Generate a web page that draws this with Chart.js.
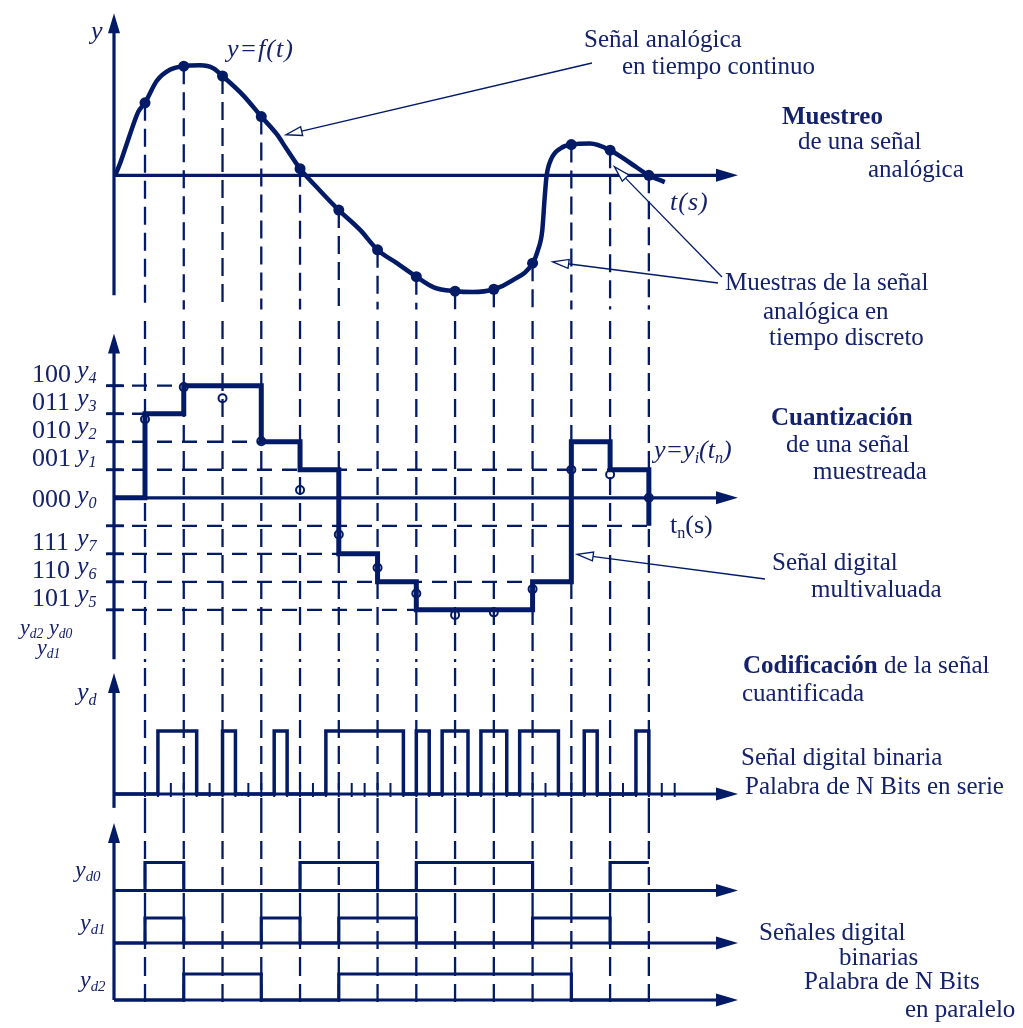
<!DOCTYPE html>
<html lang="es">
<head>
<meta charset="utf-8">
<title>Muestreo, cuantización y codificación</title>
<script src="https://cdn.jsdelivr.net/npm/chart.js@4.4.1/dist/chart.umd.min.js"></script>
<style>
  html, body { margin: 0; background: #fff; }
  #page { position: relative; width: 1023px; height: 1028px; overflow: hidden; }
  #page canvas { position: absolute; left: 0; }
  .t { position: absolute; white-space: nowrap; font-family: "Liberation Serif", "Times New Roman", serif;
       font-size: 25px; line-height: 1; color: #14216b; }
  .i { font-style: italic; font-size: 26px; }
  .t sub { font-size: 0.62em; vertical-align: -0.28em; line-height: 0; }
</style>
</head>
<body>
<div id="page">
  <canvas id="analog" width="1023" height="315" style="top:0px"></canvas>
  <canvas id="quant" width="1023" height="353" style="top:315px"></canvas>
  <canvas id="serial" width="1023" height="147" style="top:668px"></canvas>
  <canvas id="bit0" width="1023" height="90" style="top:815px"></canvas>
  <canvas id="bit1" width="1023" height="53" style="top:905px"></canvas>
  <canvas id="bit2" width="1023" height="70" style="top:958px"></canvas>

  <div class="t i" style="left:91px;top:18px">y</div>
  <div class="t i" style="left:227px;top:36px;letter-spacing:1px">y=f(t)</div>
  <div class="t i" style="left:670px;top:189px;letter-spacing:1px">t(s)</div>
  <div class="t" style="left:584px;top:26px">Señal analógica</div>
  <div class="t" style="left:622px;top:53px">en tiempo continuo</div>
  <div class="t" style="left:782px;top:103px"><b>Muestreo</b></div>
  <div class="t" style="left:798px;top:128px">de una señal</div>
  <div class="t" style="left:868px;top:156px">analógica</div>
  <div class="t" style="left:725px;top:269px">Muestras de la señal</div>
  <div class="t" style="left:763px;top:298px">analógica en</div>
  <div class="t" style="left:769px;top:324px">tiempo discreto</div>

  <div class="t" style="left:771px;top:404px"><b>Cuantización</b></div>
  <div class="t" style="left:786px;top:431px">de una señal</div>
  <div class="t" style="left:813px;top:458px">muestreada</div>
  <div class="t i" style="left:654px;top:437px">y=y<sub>i</sub>(t<sub>n</sub>)</div>
  <div class="t" style="left:670px;top:512px;font-size:26px">t<sub>n</sub>(s)</div>
  <div class="t" style="left:772px;top:549px">Señal digital</div>
  <div class="t" style="left:811px;top:576px">multivaluada</div>
  <div class="t i" style="left:20px;top:616px;font-size:22px">y<sub>d2</sub> y<sub>d0</sub></div>
  <div class="t i" style="left:37px;top:636px;font-size:22px">y<sub>d1</sub></div>

  <div class="t" style="left:743px;top:652px"><b>Codificación</b> de la señal</div>
  <div class="t" style="left:742px;top:680px">cuantificada</div>
  <div class="t i" style="left:77px;top:679px">y<sub>d</sub></div>
  <div class="t" style="left:741px;top:744px">Señal digital binaria</div>
  <div class="t" style="left:745px;top:773px">Palabra de N Bits en serie</div>

  <div class="t i" style="left:75px;top:857px;font-size:24px">y<sub>d0</sub></div>
  <div class="t i" style="left:80px;top:910px;font-size:24px">y<sub>d1</sub></div>
  <div class="t i" style="left:80px;top:967px;font-size:24px">y<sub>d2</sub></div>
  <div class="t" style="left:759px;top:919px">Señales digital</div>
  <div class="t" style="left:839px;top:944px">binarias</div>
  <div class="t" style="left:804px;top:968px">Palabra de N Bits</div>
  <div class="t" style="left:905px;top:996px">en paralelo</div>
</div>

<script>
// sample instants t_n
const sampleTimes = [1, 2, 3, 4, 5, 6, 7, 8, 9, 10, 11, 12, 13, 14];

// analog signal y = f(t)
const curveT = [0.23, 0.36, 0.53, 0.70, 0.83, 1.0, 1.3, 1.64, 2.0, 2.42, 2.76, 3.0, 3.54, 4.0,
                4.4, 4.65, 5.0, 5.51, 6.0, 6.55, 7.0, 7.49, 8.0, 8.45, 9.0, 9.46, 10.0, 10.47,
                11.0, 11.14, 11.25, 11.31, 11.36, 11.47, 11.73, 12.0, 12.48, 13.0, 13.51, 14.0, 14.41];
const curveY = [0, 0.44, 1.13, 1.82, 2.28, 2.59, 3.37, 3.77, 3.9, 3.93, 3.83, 3.55, 2.85, 2.1,
                1.47, 0.95, 0.24, -0.54, -1.24, -1.95, -2.66, -3.13, -3.62, -4.0, -4.14, -4.17, -4.07, -3.76,
                -3.14, -2.66, -1.97, -0.83, -0.03, 0.55, 0.97, 1.10, 1.14, 0.90, 0.45, 0.0, -0.24];

// samples on the analog curve and as redrawn on the quantizer plot
const sampleY = [2.59, 3.9, 3.55, 2.1, 0.24, -1.24, -2.66, -3.62, -4.14, -4.07, -3.14, 1.10, 0.90, 0];
const heldY = [2.8, 3.95, 3.55, 2.02, 0.28, -1.31, -2.5, -3.42, -4.18, -4.09, -3.26, 1.0, 0.83, 0];

// quantized level held from each sample
const quantLevel = [3, 4, 4, 2, 1, -2, -3, -4, -4, -4, -3, 2, 1, -1];

// quantizer levels and their 3-bit codes
const levelValues = [4, 3, 2, 1, 0, -2, -3, -4];
const levelCodes = ['100', '011', '010', '001', '000', '111', '110', '101'];
const levelNames = ['4', '3', '2', '1', '0', '7', '6', '5'];

// dashed level guides and the sample where each one stops
const guideLevels = [4, 3, 2, 1, -1, -2, -3, -4];
const guideEnds = [2, 1, 4, 13, 14, 6, 11, 8];

const NAVY = '#031a66';
const X_MIN = 0.2, X_MAX = 16.3;

const sampleCodes = quantLevel.map(lv => levelCodes[levelValues.indexOf(lv)]);

function pts(xs, ys) { return xs.map((x, i) => ({ x: x, y: ys[i] })); }

function serialPoints() {
  const out = [{ x: X_MIN, y: 0 }];
  sampleTimes.forEach((t, i) => {
    const code = sampleCodes[i];
    if (!code) { out.push({ x: t, y: 0 }); return; }
    for (let j = 0; j < 3; j++) out.push({ x: t + j / 3, y: +code[j] });
  });
  return out;
}

function bitPoints(ch) {
  const out = [{ x: X_MIN, y: 0 }];
  sampleTimes.forEach((t, i) => {
    const code = sampleCodes[i];
    out.push({ x: t, y: code ? +code[ch] : out[out.length - 1].y });
  });
  return out;
}

// panel height mapping: baseline pixel (page) and pixels per unit
function range(top, height, basePx, pxPerUnit) {
  return { min: (basePx - top - height) / pxPerUnit, max: (basePx - top) / pxPerUnit };
}

const decorCfg = {
  analog: { fromSamples: true, yAxis: [-4.28, 5.79], yArrow: true,
            leaders: [{ from: [592, 63], to: [4.64, 1.45] },
                      { from: [722, 277], to: [13.11, 0.31] },
                      { from: [718, 283], to: [11.52, -3.09] }] },
  quant: { yAxis: [-5.76, 5.86], yArrow: true, levelGuides: true,
           leaders: [{ from: [765, 579], to: [12.15, -2.02] }] },
  serial: { yAxis: [-0.22, 1.92], yArrow: true, bitTicks: true },
  bit0: { yAxis: [null, 2.41], yArrow: true },
  bit1: { yAxis: [null, null] },
  bit2: { yAxis: [0, null], guideTo: -0.19 }
};

function head(ctx, x, y, ang, len, half, open) {
  ctx.save();
  ctx.translate(x, y);
  ctx.rotate(ang);
  ctx.beginPath();
  ctx.moveTo(0, 0);
  ctx.lineTo(-len, -half);
  ctx.lineTo(-len, half);
  ctx.closePath();
  if (open) {
    ctx.fillStyle = '#fff'; ctx.fill();
    ctx.lineWidth = 1.3; ctx.stroke();
  } else {
    ctx.fillStyle = NAVY; ctx.fill();
  }
  ctx.restore();
}

const decor = {
  id: 'decor',
  beforeDatasetsDraw(chart) {
    const c = decorCfg[chart.canvas.id];
    const ctx = chart.ctx, xs = chart.scales.x, ys = chart.scales.y;
    const X = v => xs.getPixelForValue(v), Y = v => ys.getPixelForValue(v);
    ctx.save();
    ctx.strokeStyle = NAVY;
    ctx.lineWidth = 2.3;
    ctx.setLineDash([18, 8]);
    const bottom = Y(c.guideTo != null ? c.guideTo : ys.min);
    sampleTimes.forEach((t, i) => {
      const top = c.fromSamples ? Y(sampleY[i]) : chart.chartArea.top;
      ctx.beginPath();
      ctx.moveTo(X(t), top);
      ctx.lineTo(X(t), bottom);
      ctx.stroke();
    });
    if (c.levelGuides) {
      ctx.setLineDash([15, 10]);
      guideLevels.forEach((lv, i) => {
        ctx.beginPath();
        ctx.moveTo(X(X_MIN) - 7, Y(lv));
        ctx.lineTo(X(guideEnds[i]), Y(lv));
        ctx.stroke();
      });
      ctx.setLineDash([]);
      ctx.lineWidth = 2.8;
      guideLevels.forEach(lv => {
        ctx.beginPath();
        ctx.moveTo(X(X_MIN) - 8, Y(lv));
        ctx.lineTo(X(X_MIN) + 10, Y(lv));
        ctx.stroke();
      });
    }
    ctx.restore();
  },
  afterDatasetsDraw(chart) {
    const c = decorCfg[chart.canvas.id];
    const ctx = chart.ctx, xs = chart.scales.x, ys = chart.scales.y;
    const X = v => xs.getPixelForValue(v), Y = v => ys.getPixelForValue(v);
    const top = parseFloat(chart.canvas.style.top);
    ctx.save();
    ctx.strokeStyle = NAVY;
    ctx.setLineDash([]);
    ctx.lineWidth = 3.2;
    const ax = X(X_MIN);
    const y0 = Y(c.yAxis[0] != null ? c.yAxis[0] : ys.min);
    const y1 = Y(c.yAxis[1] != null ? c.yAxis[1] : ys.max);
    ctx.beginPath();
    ctx.moveTo(ax, y0);
    ctx.lineTo(ax, c.yArrow ? y1 + 16 : y1);
    ctx.stroke();
    if (c.yArrow) head(ctx, ax, y1, -Math.PI / 2, 20, 6, false);
    const by = Y(0), ex = X(X_MAX);
    ctx.beginPath();
    ctx.moveTo(ax, by);
    ctx.lineTo(ex - 16, by);
    ctx.stroke();
    head(ctx, ex, by, 0, 22, 6.5, false);
    if (c.bitTicks) {
      ctx.lineWidth = 2;
      sampleTimes.forEach(t => {
        for (let j = 0; j < 3; j++) {
          ctx.beginPath();
          ctx.moveTo(X(t + j / 3), by + 3);
          ctx.lineTo(X(t + j / 3), by - 11);
          ctx.stroke();
        }
      });
    }
    (c.leaders || []).forEach(l => {
      const tx = l.from[0], ty = l.from[1] - top;
      const hx = X(l.to[0]), hy = Y(l.to[1]);
      const ang = Math.atan2(hy - ty, hx - tx);
      ctx.lineWidth = 1.3;
      ctx.beginPath();
      ctx.moveTo(tx, ty);
      ctx.lineTo(hx - 15 * Math.cos(ang), hy - 15 * Math.sin(ang));
      ctx.stroke();
      head(ctx, hx, hy, ang, 16, 4.5, true);
    });
    ctx.restore();
  }
};

function panel(id, yr, datasets) {
  return new Chart(document.getElementById(id), {
    type: 'line',
    data: { datasets: datasets },
    options: {
      responsive: false,
      animation: false,
      devicePixelRatio: 1,
      events: [],
      layout: { padding: { left: 114, right: 285, top: 0, bottom: 0 } },
      scales: {
        x: { type: 'linear', min: X_MIN, max: X_MAX, display: false },
        y: { type: 'linear', min: yr.min, max: yr.max, display: false }
      },
      plugins: { legend: { display: false }, tooltip: { enabled: false } }
    },
    plugins: [decor]
  });
}

const lineStyle = { borderColor: NAVY, pointRadius: 0, fill: false, clip: false };

const charts = {};
charts.analog = panel('analog', range(0, 315, 176, 29), [
  { data: pts(sampleTimes, sampleY), showLine: false, pointRadius: 5.5,
    pointBackgroundColor: NAVY, pointBorderColor: NAVY, pointBorderWidth: 0, clip: false },
  Object.assign({ data: pts(curveT, curveY), borderWidth: 4.5, cubicInterpolationMode: 'monotone' }, lineStyle)
]);

charts.quant = panel('quant', range(315, 353, 498, 29), [
  { data: pts(sampleTimes, heldY), showLine: false, pointRadius: 4,
    pointBackgroundColor: 'rgba(255,255,255,0)', pointBorderColor: NAVY, pointBorderWidth: 2, clip: false },
  Object.assign({ data: [{ x: X_MIN, y: 0 }].concat(pts(sampleTimes, quantLevel)),
                  borderWidth: 5, stepped: 'before' }, lineStyle)
]);

charts.serial = panel('serial', range(668, 147, 794, 63), [
  Object.assign({ data: serialPoints(), borderWidth: 3.5, stepped: 'before' }, lineStyle)
]);

charts.bit0 = panel('bit0', range(815, 90, 890.5, 28), [
  Object.assign({ data: bitPoints(2), borderWidth: 3.2, stepped: 'before' }, lineStyle)
]);
charts.bit1 = panel('bit1', range(905, 53, 943, 25), [
  Object.assign({ data: bitPoints(1), borderWidth: 3.2, stepped: 'before' }, lineStyle)
]);
charts.bit2 = panel('bit2', range(958, 70, 1000, 26), [
  Object.assign({ data: bitPoints(0), borderWidth: 3.2, stepped: 'before' }, lineStyle)
]);

// level code labels on the quantizer axis
function addLabel(html, left, top, cls, size) {
  const d = document.createElement('div');
  d.className = 't ' + cls;
  d.style.left = left + 'px';
  d.style.top = top + 'px';
  d.style.fontSize = size + 'px';
  d.innerHTML = html;
  document.getElementById('page').appendChild(d);
}

const qy = charts.quant.scales.y;
levelValues.forEach((lv, i) => {
  const line = 315 + qy.getPixelForValue(lv);
  const base = lv === 0 ? line + 10 : line - 3;
  addLabel(levelCodes[i], 32, base - 21.8, '', 26);
  addLabel('y<sub>' + levelNames[i] + '</sub>', 77, base - 25.8, 'i', 26);
});
</script>
</body>
</html>
